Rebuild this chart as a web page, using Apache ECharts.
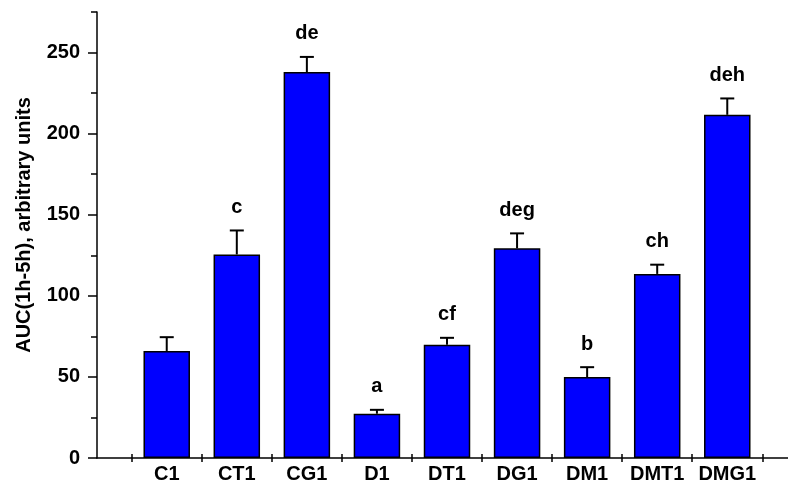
<!DOCTYPE html>
<html>
<head>
<meta charset="utf-8">
<script src="https://cdn.jsdelivr.net/npm/echarts@6/dist/echarts.min.js"></script>
<style>html,body{margin:0;padding:0;background:#fff;}#c{width:788px;height:484px;}</style>
</head>
<body>
<div id="c"></div>
<script>
const categories = ['C1', 'CT1', 'CG1', 'D1', 'DT1', 'DG1', 'DM1', 'DMT1', 'DMG1'];
const means = [66, 125.5, 238, 27.3, 69.8, 129.3, 49.9, 113.5, 211.6];
const errors = [8.5, 14.8, 9.3, 2.4, 4.3, 9.2, 6.1, 5.7, 10.1];
const letters = ['', 'c', 'de', 'a', 'cf', 'deg', 'b', 'ch', 'deh'];
const yMajorTicks = [0, 50, 100, 150, 200, 250];
const yTitle = 'AUC(1h-5h), arbitrary units';

const FONT = '"Liberation Sans", Arial, sans-serif';
const chart = echarts.init(document.getElementById('c'));
const axisBlack = { color: '#000', width: 1.5 };
const yMax = 275;
const yLabelMax = yMajorTicks[yMajorTicks.length - 1];

chart.setOption({
  animation: false,
  backgroundColor: '#fff',
  grid: [
    { left: 97, right: 0, top: 12, bottom: 26 },
    { left: 97, right: 0, top: 458 - (458 - 12) * yLabelMax / yMax, bottom: 26 },
    { left: 131.7, right: 25.7, top: 12, bottom: 26 }
  ],
  xAxis: [
    { gridIndex: 0, type: 'value', position: 'bottom', min: 0, max: 1, axisLine: { show: true, lineStyle: axisBlack }, axisTick: { show: false }, axisLabel: { show: false }, splitLine: { show: false } },
    { gridIndex: 1, type: 'value', position: 'bottom', min: 0, max: 1, show: false },
    { gridIndex: 2, type: 'category', position: 'bottom', data: categories, boundaryGap: true,
      axisLine: { show: false },
      axisTick: { show: true, inside: false, length: 4, interval: 0, lineStyle: axisBlack },
      axisLabel: { show: true, interval: 0, margin: 6, color: '#000', fontSize: 20, fontWeight: 'bold', fontFamily: FONT },
      splitLine: { show: false } },
    { gridIndex: 2, type: 'category', position: 'bottom', offset: 0, data: categories, boundaryGap: true,
      axisLine: { show: false },
      axisTick: { show: true, inside: true, length: 4, interval: 0, lineStyle: axisBlack },
      axisLabel: { show: false }, splitLine: { show: false } }
  ],
  yAxis: [
    { gridIndex: 0, type: 'value', position: 'left', min: 0, max: yMax, interval: 25,
      axisLine: { show: true, lineStyle: axisBlack },
      axisTick: { show: true, inside: false, length: 6, lineStyle: axisBlack },
      axisLabel: { show: false }, splitLine: { show: false } },
    { gridIndex: 1, type: 'value', position: 'left', min: 0, max: yLabelMax, interval: 50,
      axisLine: { show: false },
      axisTick: { show: true, inside: false, length: 9, lineStyle: axisBlack },
      axisLabel: { show: true, margin: 17, color: '#000', fontSize: 20, fontWeight: 'bold', fontFamily: FONT },
      splitLine: { show: false } },
    { gridIndex: 2, type: 'value', min: 0, max: yMax, show: false }
  ],
  graphic: [{
    type: 'text',
    x: 24, y: 225,
    rotation: Math.PI / 2,
    style: { text: yTitle, align: 'center', verticalAlign: 'middle', fill: '#000', font: 'bold 20px ' + FONT }
  }],
  series: [
    {
      type: 'bar', xAxisIndex: 2, yAxisIndex: 2,
      data: means, barWidth: 46.5,
      itemStyle: { color: '#0000ff', borderColor: '#000', borderWidth: 1.5 },
      z: 2
    },
    {
      type: 'custom', xAxisIndex: 2, yAxisIndex: 2, z: 3,
      data: means.map((m, i) => [i, m, errors[i]]),
      renderItem: function (params, api) {
        const i = api.value(0), m = api.value(1), e = api.value(2);
        const p0 = api.coord([i, m]);
        const p1 = api.coord([i, m + e]);
        const children = [
          { type: 'line', shape: { x1: p0[0], y1: p0[1], x2: p1[0], y2: p1[1] }, style: { stroke: '#000', lineWidth: 2 } },
          { type: 'line', shape: { x1: p1[0] - 7, y1: p1[1], x2: p1[0] + 7, y2: p1[1] }, style: { stroke: '#000', lineWidth: 2 } }
        ];
        if (letters[params.dataIndex]) {
          children.push({ type: 'text', style: { text: letters[params.dataIndex], x: p1[0], y: p1[1] - 23, align: 'center', verticalAlign: 'middle', fill: '#000', font: 'bold 20px ' + FONT } });
        }
        return { type: 'group', children: children };
      }
    }
  ]
});
</script>
</body>
</html>
